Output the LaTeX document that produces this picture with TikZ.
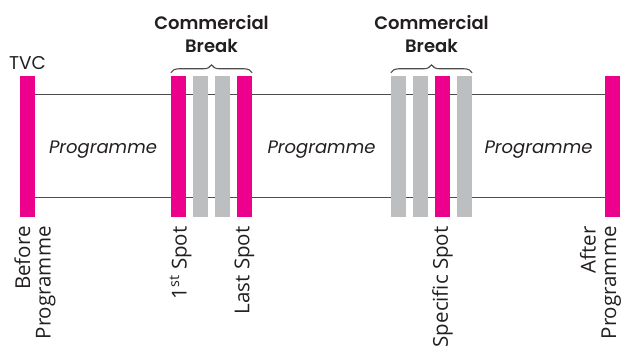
\documentclass[tikz,border=0pt]{standalone}
\usepackage{fontspec}
\setmainfont{Poppins}
\newfontfamily\brkfont{Poppins SemiBold}
\newfontfamily\spotfont{Open Sans}
\usetikzlibrary{positioning,backgrounds,decorations.pathreplacing}
\definecolor{tvcpink}{HTML}{EC008C}
\definecolor{fillgrey}{HTML}{BCBEC0}
\definecolor{rulegrey}{HTML}{4D4D4D}
\definecolor{inkgrey}{HTML}{231F20}
\tikzset{
  spot/.style={rectangle, fill=tvcpink, minimum width=15, minimum height=141, inner sep=0},
  filler/.style={spot, fill=fillgrey},
  lbl/.style={rotate=90, anchor=east, inner sep=0, align=right, text=inkgrey, font=\spotfont\fontsize{20.5}{20.5}\selectfont},
  breaklbl/.style={align=center, text=inkgrey, font=\brkfont\fontsize{18}{23}\selectfont},
  brk/.style={decorate, decoration={brace, amplitude=8}, rulegrey, line width=1.1}
}
\begin{document}
\begin{tikzpicture}[x=1pt, y=1pt]
    \useasboundingbox (0, 0) rectangle (621, 350);

    \def\ymid{203.5}
    \def\ytxt{200}
    \node[spot] (before) at (27.5, \ymid) {};
    \node[spot] (first) at (178.5, \ymid) {};
    \node[filler] (fa) at (200.5, \ymid) {};
    \node[filler] (fb) at (222.5, \ymid) {};
    \node[spot] (last) at (244.5, \ymid) {};
    \node[filler] (sa) at (398.5, \ymid) {};
    \node[filler] (sb) at (420.5, \ymid) {};
    \node[spot] (specific) at (442.5, \ymid) {};
    \node[filler] (sc) at (464.5, \ymid) {};
    \node[spot] (after) at (612.5, \ymid) {};

    \begin{scope}[on background layer]
      \draw[rulegrey, line width=1] ([yshift=-19]before.north east) -- ([yshift=-19]after.north west);
      \draw[rulegrey, line width=1] ([yshift=20]before.south east) -- ([yshift=20]after.south west);
    \end{scope}

    \node[above=3 of before, text=inkgrey, font=\fontsize{18.5}{22}\selectfont] (tvc) {TVC};

    \draw[brk] ([yshift=3]first.north west) -- ([yshift=3]last.north east)
      node[midway, above=16, breaklbl] (breaka) {Commercial\\Break};
    \draw[brk] ([yshift=3]sa.north west) -- ([yshift=3]sc.north east)
      node[midway, above=16, breaklbl] (breakb) {Commercial\\Break};

    \node[text=inkgrey, font=\itshape\fontsize{18}{22}\selectfont] (proga) at (103, \ytxt) {Programme};
    \node[text=inkgrey, font=\itshape\fontsize{18}{22}\selectfont] (progb) at (321.5, \ytxt) {Programme};
    \node[text=inkgrey, font=\itshape\fontsize{18}{22}\selectfont] (progc) at (538.5, \ytxt) {Programme};

    \node[lbl] (lbefore) at ([xshift=7.5, yshift=-9]before.south) {Before\\Programme};
    \node[lbl] (lfirst) at ([xshift=2, yshift=-9]first.south) {1\textsuperscript{st} Spot};
    \node[lbl] (llast) at ([yshift=-9]last.south) {Last Spot};
    \node[lbl] (lspecific) at ([yshift=-9]specific.south) {Specific Spot};
    \node[lbl] (lafter) at ([xshift=-12, yshift=-9]after.south) {After\\Programme};
  \end{tikzpicture}
\end{document}
